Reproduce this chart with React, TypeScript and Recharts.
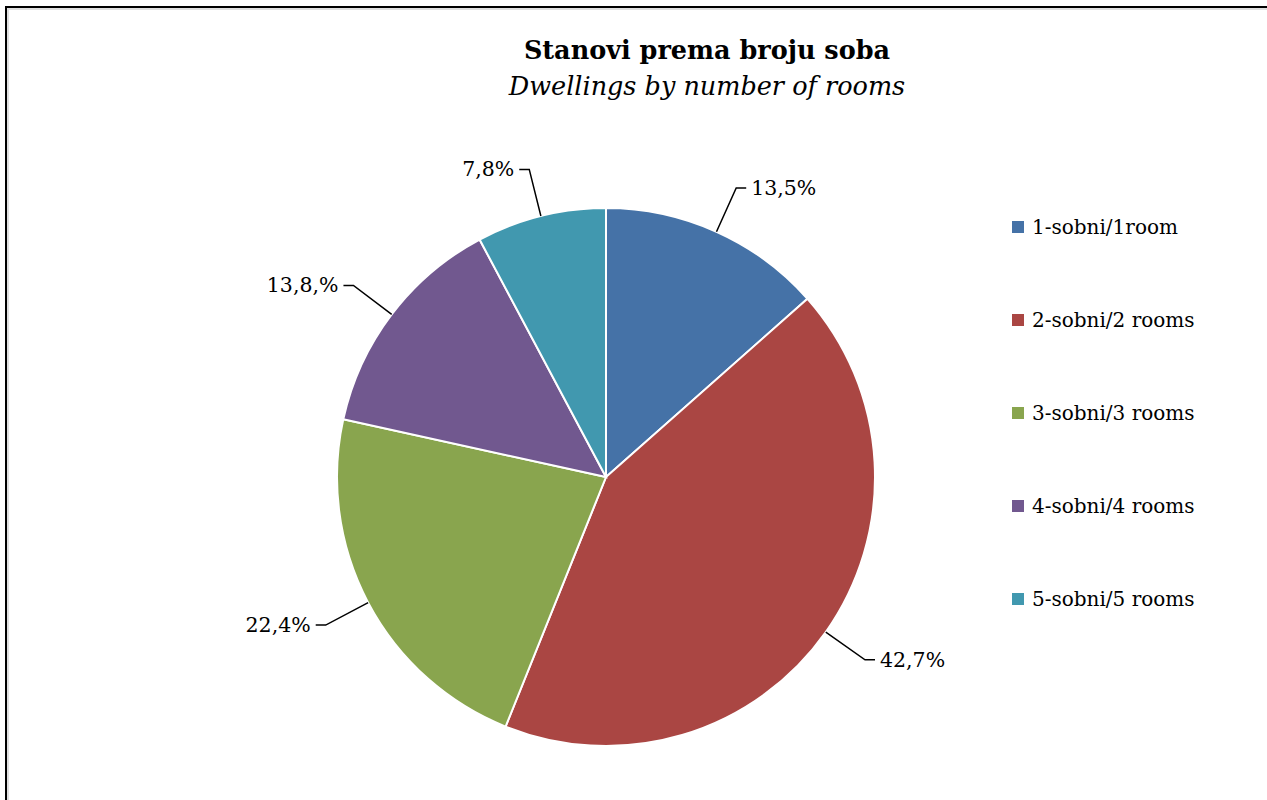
import { PieChart, Pie, Cell, Legend } from 'recharts';

const categories = ['1-sobni/1room', '2-sobni/2 rooms', '3-sobni/3 rooms', '4-sobni/4 rooms', '5-sobni/5 rooms'];
const shares = [13.5, 42.7, 22.4, 13.8, 7.8];
const labelTexts = ['13,5%', '42,7%', '22,4%', '13,8,%', '7,8%'];
const colors = ['#4572A7', '#AA4643', '#89A54E', '#71588F', '#4198AF'];

const data = categories.map((name, i) => ({ name, value: shares[i], label: labelTexts[i] }));

const FONT = '"DejaVu Serif", serif';
const RAD = Math.PI / 180;

function renderLabel(props: any) {
  const { cx, cy, midAngle, outerRadius, index } = props;
  const cos = Math.cos(-midAngle * RAD);
  const sin = Math.sin(-midAngle * RAD);
  const sx = cx + outerRadius * cos;
  const sy = cy + outerRadius * sin;
  const mx = cx + (outerRadius + 48) * cos;
  const my = cy + (outerRadius + 48) * sin;
  const dir = cos >= 0 ? 1 : -1;
  const ex = mx + dir * 10;
  return (
    <g>
      <polyline points={`${sx},${sy} ${mx},${my} ${ex},${my}`} fill="none" stroke="#000" strokeWidth={1.5} />
      <text
        x={ex + dir * 5}
        y={my}
        textAnchor={dir > 0 ? 'start' : 'end'}
        dominantBaseline="central"
        fontFamily={FONT}
        fontSize={20.5}
        fill="#000"
      >
        {data[index].label}
      </text>
    </g>
  );
}

function LegendBox() {
  return (
    <div style={{ fontFamily: FONT, fontSize: 20 }}>
      {categories.map((c, i) => (
        <div key={c} style={{ display: 'flex', alignItems: 'center', height: 93 }}>
          <span style={{ width: 12, height: 12, background: colors[i], marginRight: 8, display: 'inline-block' }} />
          <span style={{ color: '#000' }}>{c}</span>
        </div>
      ))}
    </div>
  );
}

export default function App() {
  return (
    <div style={{ position: 'absolute', left: 0, top: 0, width: 1267, height: 800, overflow: 'hidden', background: '#fff' }}>
      <div
        style={{
          position: 'absolute',
          left: 5,
          top: 6,
          width: 1300,
          height: 850,
          borderLeft: '2px solid #000',
          borderTop: '2px solid #000',
          boxShadow: 'inset 2px 2px 0 #e0e0e0',
        }}
      />
      <div style={{ position: 'absolute', left: 0, top: 32, width: 1414, textAlign: 'center', fontFamily: FONT, color: '#000' }}>
        <div style={{ fontSize: 25.5, fontWeight: 'bold', lineHeight: '36px' }}>Stanovi prema broju soba</div>
        <div style={{ fontSize: 25.5, fontStyle: 'italic', lineHeight: '36px' }}>Dwellings by number of rooms</div>
      </div>
      <div style={{ position: 'absolute', left: 0, top: 0 }}>
        <PieChart width={1267} height={800}>
          <Pie
            data={data}
            dataKey="value"
            nameKey="name"
            cx={601}
            cy={472}
            outerRadius={269}
            startAngle={90}
            endAngle={-270}
            stroke="#fff"
            strokeWidth={2}
            label={renderLabel}
            labelLine={false}
            isAnimationActive={false}
          >
            {data.map((d, i) => (
              <Cell key={d.name} fill={colors[i]} />
            ))}
          </Pie>
          <Legend
            layout="vertical"
            align="right"
            verticalAlign="top"
            wrapperStyle={{ left: 1012, top: 180, width: 240 }}
            content={() => <LegendBox />}
          />
        </PieChart>
      </div>
    </div>
  );
}
